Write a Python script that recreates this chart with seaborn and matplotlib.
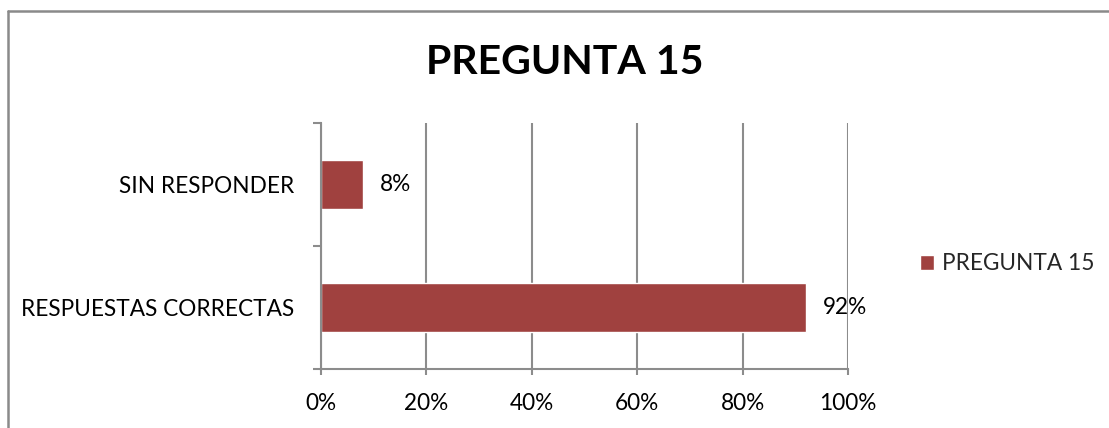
import pandas as pd
import numpy as np
import matplotlib
matplotlib.use("Agg")
import matplotlib.pyplot as plt
import seaborn as sns
from matplotlib.lines import Line2D
from matplotlib.patches import Patch
from matplotlib.ticker import FuncFormatter, FixedLocator

# Data dari grafik
categories = ["SIN RESPONDER", "RESPUESTAS CORRECTAS"]
values = [8, 92]
series_name = "PREGUNTA 15"
x_ticks = [0, 20, 40, 60, 80, 100]

bar_color = "#A0413F"
grid_color = "#8C8C8C"
font_name = "Lato"
fs = 16.3

sns.set_theme(style="white")
plt.rcParams['font.family'] = [font_name, 'DejaVu Sans']

df = pd.DataFrame({"kategori": categories, "nilai": values})

W, H = 1109, 428
fig = plt.figure(figsize=(W / 100, H / 100), dpi=100)
ax = fig.add_axes([321 / W, (H - 369) / H, (848 - 321) / W, (369 - 123) / H])

sns.barplot(data=df, x="nilai", y="kategori", order=categories, color=bar_color,
            width=0.4, saturation=1, ax=ax, orient="h")

ax.set_xlim(0, 100)
ax.set_ylim(len(categories) - 0.5, -0.5)
ax.xaxis.set_major_locator(FixedLocator(x_ticks))
ax.xaxis.set_major_formatter(FuncFormatter(lambda v, p: f"{v:.0f}%"))
ax.grid(axis="x", color=grid_color, linewidth=1.5)
ax.set_axisbelow(True)

for s in ["top", "right"]:
    ax.spines[s].set_visible(False)
for s in ["left", "bottom"]:
    ax.spines[s].set_color(grid_color)
    ax.spines[s].set_linewidth(1.5)

# Garis tick kategori di batas, label di tengah
ax.yaxis.set_minor_locator(FixedLocator(np.arange(-0.5, len(categories), 1.0)))
ax.tick_params(axis="y", which="major", length=0, pad=19, labelsize=fs, labelcolor="black")
ax.tick_params(axis="y", which="minor", length=6, width=1.5, color=grid_color, left=True)
ax.tick_params(axis="x", which="major", length=4, width=1.5, color=grid_color, bottom=True,
               pad=13, labelsize=fs, labelcolor="black")
ax.set_xlabel("")
ax.set_ylabel("")

for c in ax.containers:
    ax.bar_label(c, labels=[f"{v}%" for v in values], padding=12, fontsize=fs, color="black")

fig.text(565 / W, (H - 62) / H, series_name, ha="center", va="center",
         fontsize=29.5, fontweight="bold", color="black")

leg = fig.legend(handles=[Patch(facecolor=bar_color, label=series_name)],
                 loc="center left", bbox_to_anchor=(920 / W, (H - 264) / H),
                 frameon=False, fontsize=fs, handlelength=0.6, handleheight=0.6,
                 handletextpad=0.35, borderaxespad=0, borderpad=0)

# Bingkai luar (hanya kiri dan atas terlihat)
fig.add_artist(Line2D([8 / W, 8 / W], [0, (H - 11) / H], color="#8A8A8A", linewidth=1.8,
                      transform=fig.transFigure))
fig.add_artist(Line2D([8 / W, 1], [(H - 11) / H, (H - 11) / H], color="#8A8A8A", linewidth=1.8,
                      transform=fig.transFigure))

fig.savefig("out.png", dpi=100)
